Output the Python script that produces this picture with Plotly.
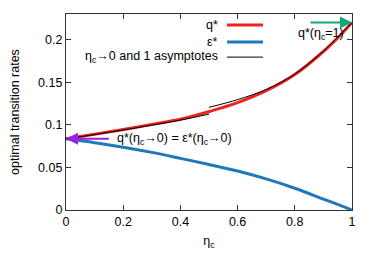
import plotly.graph_objects as go

eta = [0.0, 0.1, 0.2, 0.3, 0.4, 0.5, 0.6, 0.7, 0.8, 0.9, 0.95, 1.0]
q_star = [0.0835, 0.0888, 0.0945, 0.1005, 0.1065, 0.1155, 0.126, 0.140, 0.159, 0.186, 0.202, 0.22]
eps_star = [0.0835, 0.0790, 0.0737, 0.0676, 0.0606, 0.0534, 0.0457, 0.0365, 0.0255, 0.0128, 0.0065, 0.0]

eta_asym0 = [0.0, 0.1, 0.2, 0.3, 0.4, 0.5]
q_asym0 = [0.0835, 0.0885, 0.0938, 0.0995, 0.1055, 0.1125]
eta_asym1 = [0.5, 0.6, 0.7, 0.8, 0.9, 1.0]
q_asym1 = [0.1205, 0.1295, 0.1415, 0.1595, 0.1865, 0.22]

xticks = [0, 0.2, 0.4, 0.6, 0.8, 1]
xticklabels = ["0", "0.2", "0.4", "0.6", "0.8", "1"]
yticks = [0, 0.05, 0.1, 0.15, 0.2]
yticklabels = ["0", "0.05", "0.1", "0.15", "0.2"]

RED = "#f0241e"
BLUE = "#1f78b8"
GREEN = "#10a57a"
PURPLE = "#9b1fe0"

fig = go.Figure()
fig.add_trace(go.Scatter(x=eta, y=q_star, mode="lines", line=dict(color=RED, width=3, shape="spline"), showlegend=False))
fig.add_trace(go.Scatter(x=eta, y=eps_star, mode="lines", line=dict(color=BLUE, width=3, shape="spline"), showlegend=False))
fig.add_trace(go.Scatter(x=eta_asym0, y=q_asym0, mode="lines", line=dict(color="black", width=1, shape="spline"), showlegend=False))
fig.add_trace(go.Scatter(x=eta_asym1, y=q_asym1, mode="lines", line=dict(color="black", width=1, shape="spline"), showlegend=False))

font = dict(family="Liberation Sans, Arial, sans-serif", size=12.5, color="black")

# manual gnuplot-style legend (text right, sample line left of it)
legend_items = [("q*", RED, 3, 0.944), ("ε*", BLUE, 3, 0.857), ("η<sub>c</sub>→0 and 1 asymptotes", "black", 1, 0.78)]
for label, col, w, yy in legend_items:
    fig.add_annotation(x=0.538, y=yy, xref="paper", yref="paper", text=label, showarrow=False,
                       xanchor="right", yanchor="middle", font=font)
    fig.add_shape(type="line", xref="paper", yref="paper", x0=0.563, x1=0.689, y0=yy, y1=yy,
                  line=dict(color=col, width=w))

# arrows
fig.add_annotation(x=1.0, y=q_star[-1], ax=0.85, ay=q_star[-1], xref="x", yref="y", axref="x", ayref="y",
                   showarrow=True, arrowhead=2, arrowsize=1.2, arrowwidth=2, arrowcolor=GREEN, text="")
fig.add_annotation(x=0.978, y=0.207, xref="x", yref="y", text="q*(η<sub>c</sub>=1)", showarrow=False,
                   xanchor="right", yanchor="middle", font=font)
fig.add_annotation(x=0.0, y=q_star[0], ax=0.155, ay=q_star[0], xref="x", yref="y", axref="x", ayref="y",
                   showarrow=True, arrowhead=2, arrowsize=1.2, arrowwidth=2, arrowcolor=PURPLE, text="")
fig.add_annotation(x=0.17, y=q_star[0], xref="x", yref="y",
                   text="q*(η<sub>c</sub>→0) = ε*(η<sub>c</sub>→0)", showarrow=False,
                   xanchor="left", yanchor="middle", font=font)

axis_common = dict(showline=True, linecolor="#333333", linewidth=1.3, mirror="ticks", ticks="inside",
                   ticklen=5, tickcolor="#333333", showgrid=False, zeroline=False, tickfont=font,
                   automargin=False)
fig.update_xaxes(range=[0, 1], tickvals=xticks, ticktext=xticklabels,
                 title=dict(text="η<sub>c</sub>", font=font, standoff=8), **axis_common)
fig.update_yaxes(range=[0, 0.23], tickvals=yticks, ticktext=yticklabels,
                 title=dict(text="optimal transition rates", font=font, standoff=20), **axis_common)

fig.update_layout(width=366, height=253, margin=dict(l=58, r=22, t=6, b=51),
                  plot_bgcolor="white", paper_bgcolor="white", font=font, showlegend=False)

fig.write_html("out.html")
